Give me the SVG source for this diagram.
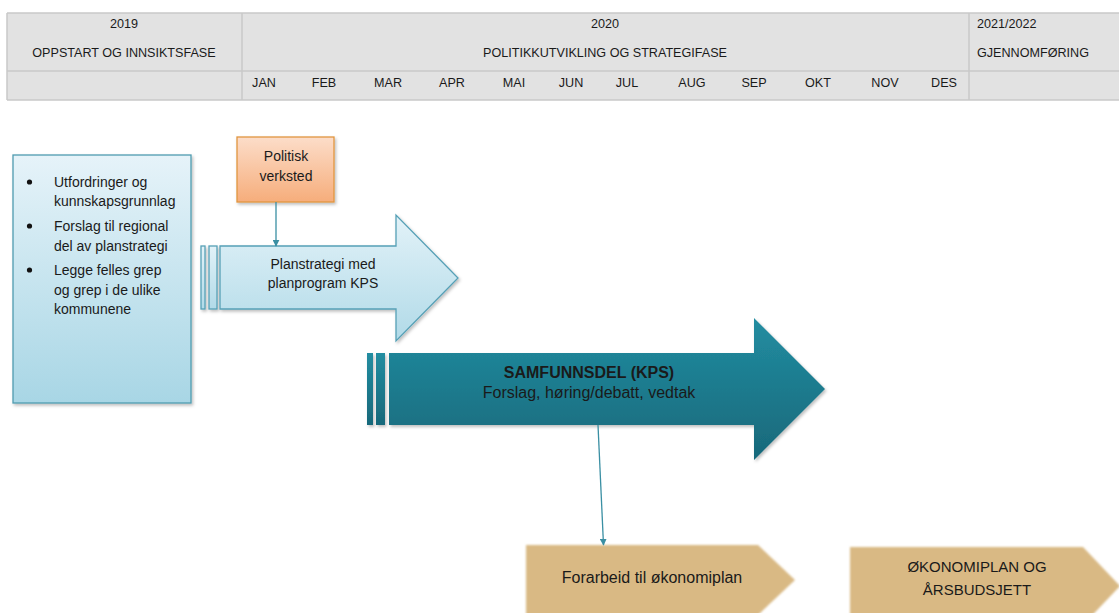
<svg xmlns="http://www.w3.org/2000/svg" width="1119" height="613" viewBox="0 0 1119 613">
<style>
  text { font-family: "Liberation Sans", Arial, sans-serif; fill: #1a1a1a; }
  .hdr { font-size: 12.6px; }
  .mid { text-anchor: middle; }
  .t14 { font-size: 14px; }
  .t16 { font-size: 16px; }
  .conn { stroke: #3a8fa3; stroke-width: 1.3; fill: none; }
  .hline { stroke: #c8c8c8; stroke-width: 1.5; }
</style>
<defs>
  <linearGradient id="gLeft" x1="0" y1="0" x2="0" y2="1">
    <stop offset="0" stop-color="#e6f3f9"/>
    <stop offset="1" stop-color="#a8d6e5"/>
  </linearGradient>
  <linearGradient id="gOrange" x1="0" y1="0" x2="0" y2="1">
    <stop offset="0" stop-color="#fcddc9"/>
    <stop offset="1" stop-color="#f6ad7b"/>
  </linearGradient>
  <linearGradient id="gLight" x1="0" y1="0" x2="0" y2="1">
    <stop offset="0" stop-color="#e2f2f8"/>
    <stop offset="1" stop-color="#b1dae8"/>
  </linearGradient>
  <linearGradient id="gDark" x1="0" y1="0" x2="0" y2="1">
    <stop offset="0" stop-color="#228da1"/>
    <stop offset="1" stop-color="#18687a"/>
  </linearGradient>
  <filter id="shadow" x="-10%" y="-10%" width="130%" height="130%">
    <feDropShadow dx="1.5" dy="2" stdDeviation="1.5" flood-color="#000" flood-opacity="0.25"/>
  </filter>
  <filter id="soft" x="-5%" y="-5%" width="110%" height="110%">
    <feGaussianBlur stdDeviation="0.8"/>
  </filter>
  <marker id="arr" viewBox="0 0 10 10" refX="9" refY="5" markerWidth="7" markerHeight="7" markerUnits="userSpaceOnUse" orient="auto">
    <path d="M0,0 L10,5 L0,10 z" fill="#3a8fa3"/>
  </marker>
</defs>
<rect width="1119" height="613" fill="#ffffff"/>

<g id="header">
  <rect x="7" y="13" width="1112" height="87" fill="#e2e2e2"/>
  <line class="hline" x1="7" y1="13" x2="1119" y2="13"/>
  <line class="hline" x1="7" y1="71" x2="1119" y2="71"/>
  <line class="hline" x1="7" y1="100" x2="1119" y2="100"/>
  <line class="hline" x1="7" y1="13" x2="7" y2="100"/>
  <line class="hline" x1="242" y1="13" x2="242" y2="100"/>
  <line class="hline" x1="969" y1="13" x2="969" y2="100"/>
  <text class="hdr mid" x="124" y="28">2019</text>
  <text class="hdr mid" x="124" y="57">OPPSTART OG INNSIKTSFASE</text>
  <text class="hdr mid" x="605" y="28">2020</text>
  <text class="hdr mid" x="605" y="57">POLITIKKUTVIKLING OG STRATEGIFASE</text>
  <text class="hdr" x="977" y="28">2021/2022</text>
  <text class="hdr" x="977" y="57">GJENNOMFØRING</text>
  <text class="hdr mid" x="264" y="87">JAN</text>
  <text class="hdr mid" x="324" y="87">FEB</text>
  <text class="hdr mid" x="388" y="87">MAR</text>
  <text class="hdr mid" x="452" y="87">APR</text>
  <text class="hdr mid" x="514" y="87">MAI</text>
  <text class="hdr mid" x="571" y="87">JUN</text>
  <text class="hdr mid" x="627" y="87">JUL</text>
  <text class="hdr mid" x="692" y="87">AUG</text>
  <text class="hdr mid" x="754" y="87">SEP</text>
  <text class="hdr mid" x="818" y="87">OKT</text>
  <text class="hdr mid" x="885" y="87">NOV</text>
  <text class="hdr mid" x="944" y="87">DES</text>
</g>

<g id="innsikt">
  <rect x="13" y="155" width="178" height="248" fill="url(#gLeft)" stroke="#4f9bb0" stroke-width="1.3" filter="url(#shadow)"/>
  <circle cx="29.5" cy="182" r="2.6" fill="#111"/>
  <circle cx="29.5" cy="226" r="2.6" fill="#111"/>
  <circle cx="29.5" cy="270" r="2.6" fill="#111"/>
  <text class="t14" x="54" y="187">Utfordringer og</text>
  <text class="t14" x="54" y="206">kunnskapsgrunnlag</text>
  <text class="t14" x="54" y="231">Forslag til regional</text>
  <text class="t14" x="54" y="251">del av planstrategi</text>
  <text class="t14" x="54" y="275">Legge felles grep</text>
  <text class="t14" x="54" y="295">og grep i de ulike</text>
  <text class="t14" x="54" y="314">kommunene</text>
</g>

<g id="politisk">
  <rect x="237" y="137" width="97" height="65" fill="url(#gOrange)" stroke="#e0953f" stroke-width="1.3" filter="url(#shadow)"/>
  <text class="t14 mid" x="286" y="161">Politisk</text>
  <text class="t14 mid" x="286" y="181">verksted</text>
</g>

<g id="planstrategi">
  <g filter="url(#shadow)" fill="url(#gLight)" stroke="#56a0b6" stroke-width="1.3">
    <rect x="201" y="246" width="4" height="63"/>
    <rect x="209" y="246" width="8" height="63"/>
    <polygon points="220,246 396,246 396,215 458,278 396,341 396,309 220,309"/>
  </g>
  <text class="t14 mid" x="323" y="269">Planstrategi med</text>
  <text class="t14 mid" x="323" y="288">planprogram KPS</text>
</g>

<g id="samfunnsdel">
  <g filter="url(#shadow)" fill="url(#gDark)">
    <rect x="367" y="353" width="6" height="72"/>
    <rect x="376" y="353" width="9" height="72"/>
    <polygon points="389,353 754,353 754,318 825,389 754,460 754,425 389,425"/>
  </g>
  <text class="t16 mid" x="589" y="377.5" font-weight="bold" fill="#0d0d0d">SAMFUNNSDEL (KPS)</text>
  <text class="t16 mid" x="589" y="397.5" fill="#0d0d0d">Forslag, høring/debatt, vedtak</text>
</g>

<g id="forarbeid">
  <polygon points="526,545 758,545 795,580 758,615 526,615" fill="#d9b984" filter="url(#soft)"/>
  <text class="t16 mid" x="652" y="582.5">Forarbeid til økonomiplan</text>
</g>

<g id="okonomiplan">
  <polygon points="850,547 1083,547 1120,586 1083,625 850,625" fill="#d9b984" filter="url(#soft)"/>
  <text class="mid" x="977" y="572" font-size="15px">ØKONOMIPLAN OG</text>
  <text class="mid" x="977" y="595" font-size="15px">ÅRSBUDSJETT</text>
</g>

<g id="connectors">
  <line class="conn" x1="276" y1="202" x2="276" y2="246" marker-end="url(#arr)"/>
  <line class="conn" x1="598" y1="425" x2="603.5" y2="545" marker-end="url(#arr)"/>
</g>
</svg>
